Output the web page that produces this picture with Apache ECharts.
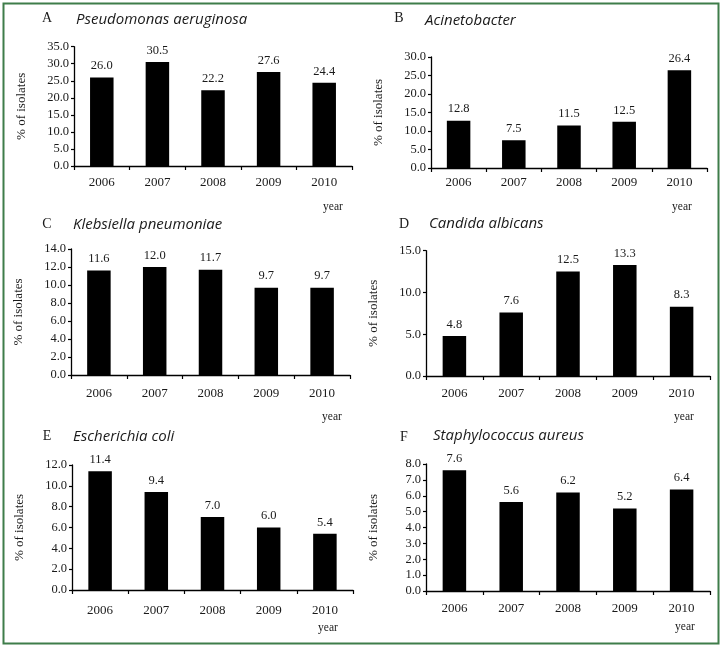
<!DOCTYPE html>
<html>
<head>
<meta charset="utf-8">
<script src="https://cdn.jsdelivr.net/npm/echarts@6/dist/echarts.min.js"></script>
<style>
html,body{margin:0;padding:0;background:#fff;}
#chart{width:724px;height:648px;}
</style>
</head>
<body>
<div id="chart"></div>
<script>
// ---- data ----
const years = ['2006', '2007', '2008', '2009', '2010'];
const panelLetters = ['A', 'B', 'C', 'D', 'E', 'F'];
const panelNames = ['Pseudomonas aeruginosa', 'Acinetobacter', 'Klebsiella pneumoniae', 'Candida albicans', 'Escherichia coli', 'Staphylococcus aureus'];
const pseudomonas = [26.0, 30.5, 22.2, 27.6, 24.4];
const acinetobacter = [12.8, 7.5, 11.5, 12.5, 26.4];
const klebsiella = [11.6, 12.0, 11.7, 9.7, 9.7];
const candida = [4.8, 7.6, 12.5, 13.3, 8.3];
const ecoli = [11.4, 9.4, 7.0, 6.0, 5.4];
const staph = [7.6, 5.6, 6.2, 5.2, 6.4];
const yMax = [35, 30, 14, 15, 12, 8];
const yStep = [5, 5, 2, 5, 2, 1];
const yAxisTitle = '% of isolates';
const xAxisTitle = 'year';

const allSeries = [pseudomonas, acinetobacter, klebsiella, candida, ecoli, staph];

// ---- layout ----
const grids = [
  {left: 74, top: 46.7, width: 278, height: 119.3},
  {left: 431, top: 57, width: 276, height: 111},
  {left: 71, top: 249, width: 279, height: 126},
  {left: 426, top: 250.7, width: 284, height: 125.3},
  {left: 72, top: 465, width: 281, height: 125},
  {left: 426, top: 464, width: 284, height: 127}
];
const xLabelMargin = [10, 8, 12, 11, 14, 11];
const letterPos = [[47, 18], [399, 18], [47, 224], [404, 224], [47, 436], [404, 437]];
const namePos = [[76, 20], [425, 21], [73, 225], [429, 224], [73, 436.5], [433, 436]];
const yearPos = [[333, 207], [682, 207], [332, 417], [684, 417], [328, 628], [685, 627]];

const serif = '"Liberation Serif", "DejaVu Serif", serif';
const sans = '"Open Sans", Lato, sans-serif';

const option = {
  animation: false,
  backgroundColor: '#fff',
  grid: grids.map(g => Object.assign({containLabel: false}, g)),
  xAxis: grids.map((g, i) => ({
    type: 'category',
    gridIndex: i,
    data: years,
    boundaryGap: true,
    axisLine: {lineStyle: {color: '#000', width: 1.3}},
    axisTick: {show: true, length: 4, inside: false, lineStyle: {color: '#000', width: 1.2}},
    axisLabel: {color: '#1a1a1a', fontFamily: serif, fontSize: 13, margin: xLabelMargin[i]},
    splitLine: {show: false}
  })),
  yAxis: grids.map((g, i) => ({
    type: 'value',
    gridIndex: i,
    min: 0,
    max: yMax[i],
    interval: yStep[i],
    name: yAxisTitle,
    nameLocation: 'middle',
    nameGap: 46,
    nameTextStyle: {color: '#1a1a1a', fontFamily: serif, fontSize: 13},
    axisLine: {show: true, lineStyle: {color: '#000', width: 1.3}},
    axisTick: {show: true, length: 3, inside: false, lineStyle: {color: '#000', width: 1.2}},
    axisLabel: {color: '#1a1a1a', fontFamily: serif, fontSize: 12.5, margin: 5, formatter: v => v.toFixed(1)},
    splitLine: {show: false}
  })),
  series: allSeries.map((d, i) => ({
    type: 'bar',
    xAxisIndex: i,
    yAxisIndex: i,
    data: d,
    barWidth: 23.5,
    itemStyle: {color: '#000'},
    label: {
      show: true,
      position: 'top',
      distance: 5,
      color: '#1a1a1a',
      fontFamily: serif,
      fontSize: 12.5,
      formatter: p => p.value.toFixed(1)
    }
  })),
  graphic: [
    {type: 'rect', shape: {x: 3.5, y: 3.5, width: 715, height: 640}, style: {fill: 'none', stroke: '#3f7d4a', lineWidth: 2}, silent: true}
  ].concat(
    panelLetters.map((t, i) => ({type: 'text', x: letterPos[i][0], y: letterPos[i][1], style: {text: t, font: '14px ' + serif, fill: '#1a1a1a', textAlign: 'center', textVerticalAlign: 'middle'}})),
    panelNames.map((t, i) => ({type: 'text', x: namePos[i][0], y: namePos[i][1], style: {text: t, font: 'italic 15px ' + sans, fill: '#1a1a1a', textAlign: 'left', textVerticalAlign: 'middle'}})),
    yearPos.map(p => ({type: 'text', x: p[0], y: p[1], style: {text: xAxisTitle, font: '11.5px ' + serif, fill: '#1a1a1a', textAlign: 'center', textVerticalAlign: 'middle'}}))
  )
};

const chart = echarts.init(document.getElementById('chart'), null, {renderer: 'canvas'});
chart.setOption(option);
</script>
</body>
</html>
